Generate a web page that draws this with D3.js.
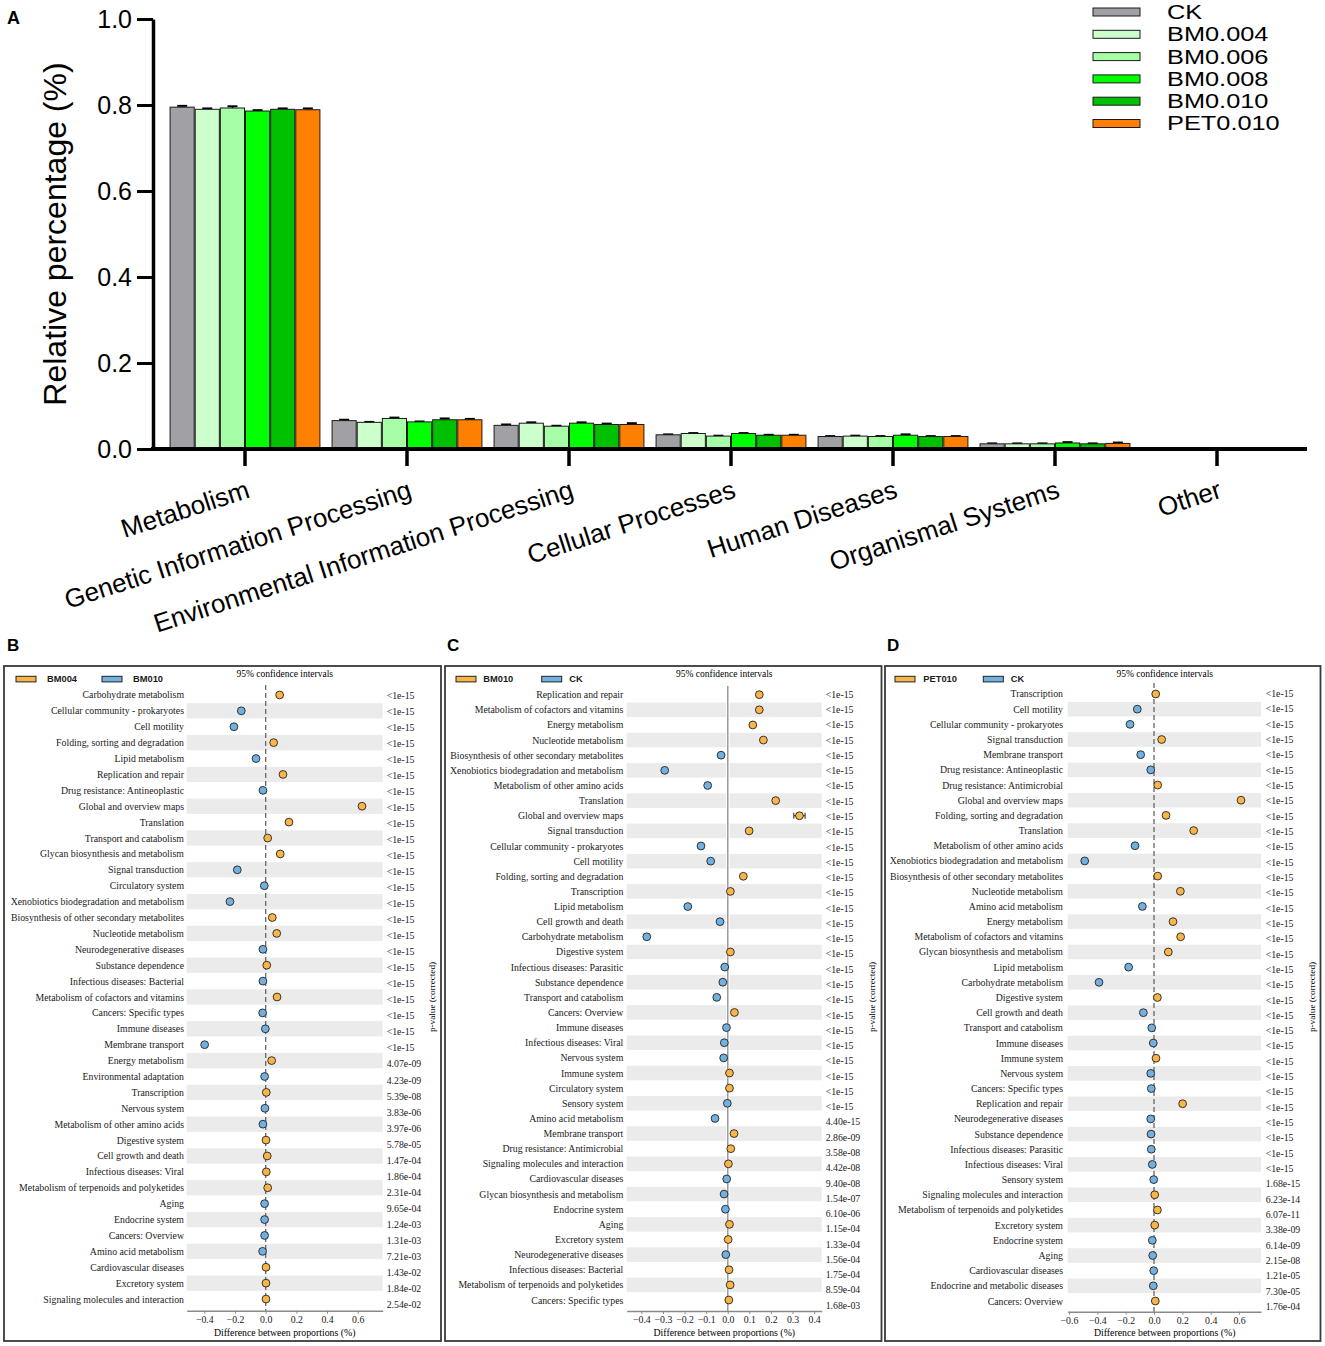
<!DOCTYPE html>
<html lang="en">
<head>
<meta charset="utf-8">
<title>KEGG level 1 / STAMP</title>
<script src="https://cdn.jsdelivr.net/npm/d3@7"></script>
<style>
  body { margin: 0; background: #fff; }
  svg { display: block; }
</style>
</head>
<body>
<svg id="fig" width="1325" height="1346"></svg>
<script>
// ---------- panel A data ----------
const groupsA = ["Metabolism", "Genetic Information Processing", "Environmental Information Processing",
                 "Cellular Processes", "Human Diseases", "Organismal Systems", "Other"];
const seriesA = ["CK", "BM0.004", "BM0.006", "BM0.008", "BM0.010", "PET0.010"];
const valCK    = [0.795, 0.066, 0.055, 0.033, 0.029, 0.012, 0];
const valBM004 = [0.790, 0.062, 0.060, 0.036, 0.030, 0.012, 0];
const valBM006 = [0.793, 0.071, 0.053, 0.030, 0.029, 0.012, 0];
const valBM008 = [0.786, 0.063, 0.060, 0.036, 0.032, 0.014, 0];
const valBM010 = [0.790, 0.068, 0.057, 0.032, 0.029, 0.012, 0];
const valPET   = [0.789, 0.068, 0.057, 0.032, 0.029, 0.013, 0];
const errCK    = [0.003, 0.002, 0.002, 0.001, 0.001, 0.001, 0];
const errBM004 = [0.002, 0.001, 0.002, 0.001, 0.001, 0.001, 0];
const errBM006 = [0.004, 0.002, 0.001, 0.001, 0.001, 0.001, 0];
const errBM008 = [0.002, 0.001, 0.002, 0.001, 0.002, 0.002, 0];
const errBM010 = [0.002, 0.003, 0.002, 0.001, 0.001, 0.001, 0];
const errPET   = [0.003, 0.002, 0.003, 0.001, 0.001, 0.002, 0];
const yTicksA  = [0, 0.2, 0.4, 0.6, 0.8, 1.0];

// ---------- panel B data (BM004 vs BM010) ----------
const catsB = ["Carbohydrate metabolism", "Cellular community - prokaryotes", "Cell motility",
  "Folding, sorting and degradation", "Lipid metabolism", "Replication and repair",
  "Drug resistance: Antineoplastic", "Global and overview maps", "Translation", "Transport and catabolism",
  "Glycan biosynthesis and metabolism", "Signal transduction", "Circulatory system",
  "Xenobiotics biodegradation and metabolism", "Biosynthesis of other secondary metabolites",
  "Nucleotide metabolism", "Neurodegenerative diseases", "Substance dependence",
  "Infectious diseases: Bacterial", "Metabolism of cofactors and vitamins", "Cancers: Specific types",
  "Immune diseases", "Membrane transport", "Energy metabolism", "Environmental adaptation", "Transcription",
  "Nervous system", "Metabolism of other amino acids", "Digestive system", "Cell growth and death",
  "Infectious diseases: Viral", "Metabolism of terpenoids and polyketides", "Aging", "Endocrine system",
  "Cancers: Overview", "Amino acid metabolism", "Cardiovascular diseases", "Excretory system",
  "Signaling molecules and interaction"];
const diffB = [0.091, -0.159, -0.207, 0.052, -0.063, 0.113, -0.018, 0.628, 0.152, 0.013,
  0.095, -0.185, -0.009, -0.233, 0.043, 0.072, -0.018, 0.007, -0.018, 0.074,
  -0.020, -0.002, -0.398, 0.039, -0.007, 0.004, -0.005, -0.018, 0.002, 0.010,
  0.004, 0.013, -0.007, -0.007, -0.007, -0.020, 0.002, 0.002, 0.002];
const ciB = [0.005, 0.005, 0.005, 0.005, 0.004, 0.005, 0.004, 0.014, 0.006, 0.004,
  0.004, 0.005, 0.003, 0.005, 0.003, 0.004, 0.003, 0.003, 0.003, 0.004,
  0.003, 0.003, 0.006, 0.004, 0.002, 0.003, 0.002, 0.003, 0.002, 0.003,
  0.002, 0.003, 0.002, 0.002, 0.002, 0.003, 0.002, 0.002, 0.002];
const pB = ["<1e-15", "<1e-15", "<1e-15", "<1e-15", "<1e-15", "<1e-15", "<1e-15", "<1e-15", "<1e-15", "<1e-15",
  "<1e-15", "<1e-15", "<1e-15", "<1e-15", "<1e-15", "<1e-15", "<1e-15", "<1e-15", "<1e-15", "<1e-15",
  "<1e-15", "<1e-15", "<1e-15", "4.07e-09", "4.23e-09", "5.39e-08", "3.83e-06", "3.97e-06", "5.78e-05",
  "1.47e-04", "1.86e-04", "2.31e-04", "9.65e-04", "1.24e-03", "1.31e-03", "7.21e-03", "1.43e-02",
  "1.84e-02", "2.54e-02"];
const ticksB = [-0.4, -0.2, 0.0, 0.2, 0.4, 0.6];

// ---------- panel C data (BM010 vs CK) ----------
const catsC = ["Replication and repair", "Metabolism of cofactors and vitamins", "Energy metabolism",
  "Nucleotide metabolism", "Biosynthesis of other secondary metabolites",
  "Xenobiotics biodegradation and metabolism", "Metabolism of other amino acids", "Translation",
  "Global and overview maps", "Signal transduction", "Cellular community - prokaryotes", "Cell motility",
  "Folding, sorting and degradation", "Transcription", "Lipid metabolism", "Cell growth and death",
  "Carbohydrate metabolism", "Digestive system", "Infectious diseases: Parasitic", "Substance dependence",
  "Transport and catabolism", "Cancers: Overview", "Immune diseases", "Infectious diseases: Viral",
  "Nervous system", "Immune system", "Circulatory system", "Sensory system", "Amino acid metabolism",
  "Membrane transport", "Drug resistance: Antimicrobial", "Signaling molecules and interaction",
  "Cardiovascular diseases", "Glycan biosynthesis and metabolism", "Endocrine system", "Aging",
  "Excretory system", "Neurodegenerative diseases", "Infectious diseases: Bacterial",
  "Metabolism of terpenoids and polyketides", "Cancers: Specific types"];
const diffC = [0.146, 0.146, 0.116, 0.165, -0.031, -0.292, -0.093, 0.222, 0.332, 0.099,
  -0.124, -0.079, 0.072, 0.012, -0.185, -0.036, -0.375, 0.012, -0.014, -0.023,
  -0.051, 0.031, -0.006, -0.016, -0.019, 0.008, 0.008, -0.002, -0.059, 0.029,
  0.014, 0.003, -0.005, -0.017, -0.011, 0.008, 0.002, -0.009, 0.006, 0.011,
  0.005];
const ciC = [0.006, 0.006, 0.005, 0.006, 0.004, 0.007, 0.005, 0.007, 0.026, 0.006,
  0.005, 0.005, 0.005, 0.003, 0.006, 0.004, 0.012, 0.003, 0.003, 0.003,
  0.004, 0.003, 0.003, 0.003, 0.003, 0.003, 0.003, 0.002, 0.005, 0.003,
  0.003, 0.003, 0.002, 0.003, 0.002, 0.002, 0.002, 0.002, 0.002, 0.002,
  0.002];
const pC = ["<1e-15", "<1e-15", "<1e-15", "<1e-15", "<1e-15", "<1e-15", "<1e-15", "<1e-15", "<1e-15", "<1e-15",
  "<1e-15", "<1e-15", "<1e-15", "<1e-15", "<1e-15", "<1e-15", "<1e-15", "<1e-15", "<1e-15", "<1e-15",
  "<1e-15", "<1e-15", "<1e-15", "<1e-15", "<1e-15", "<1e-15", "<1e-15", "<1e-15", "4.40e-15", "2.86e-09",
  "3.58e-08", "4.42e-08", "9.40e-08", "1.54e-07", "6.10e-06", "1.15e-04", "1.33e-04", "1.56e-04",
  "1.75e-04", "8.59e-04", "1.68e-03"];
const ticksC = [-0.4, -0.3, -0.2, -0.1, 0.0, 0.1, 0.2, 0.3, 0.4];

// ---------- panel D data (PET010 vs CK) ----------
const catsD = ["Transcription", "Cell motility", "Cellular community - prokaryotes", "Signal transduction",
  "Membrane transport", "Drug resistance: Antineoplastic", "Drug resistance: Antimicrobial",
  "Global and overview maps", "Folding, sorting and degradation", "Translation",
  "Metabolism of other amino acids", "Xenobiotics biodegradation and metabolism",
  "Biosynthesis of other secondary metabolites", "Nucleotide metabolism", "Amino acid metabolism",
  "Energy metabolism", "Metabolism of cofactors and vitamins", "Glycan biosynthesis and metabolism",
  "Lipid metabolism", "Carbohydrate metabolism", "Digestive system", "Cell growth and death",
  "Transport and catabolism", "Immune diseases", "Immune system", "Nervous system",
  "Cancers: Specific types", "Replication and repair", "Neurodegenerative diseases", "Substance dependence",
  "Infectious diseases: Parasitic", "Infectious diseases: Viral", "Sensory system",
  "Signaling molecules and interaction", "Metabolism of terpenoids and polyketides", "Excretory system",
  "Endocrine system", "Aging", "Cardiovascular diseases", "Endocrine and metabolic diseases",
  "Cancers: Overview"];
const diffD = [0.012, -0.118, -0.169, 0.054, -0.094, -0.023, 0.026, 0.614, 0.085, 0.280,
  -0.134, -0.489, 0.026, 0.186, -0.082, 0.134, 0.188, 0.101, -0.179, -0.388,
  0.024, -0.075, -0.016, -0.005, 0.014, -0.023, -0.019, 0.202, -0.023, -0.021,
  -0.019, -0.012, -0.002, 0.005, 0.024, 0.005, -0.012, -0.009, -0.002, -0.005,
  0.009];
const ciD = [0.004, 0.005, 0.005, 0.005, 0.005, 0.004, 0.004, 0.016, 0.005, 0.006,
  0.005, 0.006, 0.004, 0.005, 0.005, 0.005, 0.005, 0.005, 0.005, 0.006,
  0.003, 0.004, 0.003, 0.003, 0.003, 0.003, 0.003, 0.005, 0.003, 0.003,
  0.003, 0.003, 0.002, 0.002, 0.003, 0.002, 0.002, 0.002, 0.002, 0.002,
  0.002];
const pD = ["<1e-15", "<1e-15", "<1e-15", "<1e-15", "<1e-15", "<1e-15", "<1e-15", "<1e-15", "<1e-15", "<1e-15",
  "<1e-15", "<1e-15", "<1e-15", "<1e-15", "<1e-15", "<1e-15", "<1e-15", "<1e-15", "<1e-15", "<1e-15",
  "<1e-15", "<1e-15", "<1e-15", "<1e-15", "<1e-15", "<1e-15", "<1e-15", "<1e-15", "<1e-15", "<1e-15",
  "<1e-15", "<1e-15", "1.68e-15", "6.23e-14", "6.07e-11", "3.38e-09", "6.14e-09", "2.15e-08",
  "1.21e-05", "7.30e-05", "1.76e-04"];
const ticksD = [-0.6, -0.4, -0.2, 0.0, 0.2, 0.4, 0.6];

// ---------- styles ----------
const colorsA = ["#a1a1a5", "#ccffcc", "#a6ffa6", "#00ff00", "#00c000", "#ff8000"];
const ORANGE = "#f9b548", BLUE = "#72b0e0";
const SANS = "Liberation Sans, Arial, sans-serif";
const SERIF = "Liberation Serif, Times New Roman, serif";

const svg = d3.select("#fig");

// ================= panel A =================
const valsA = [valCK, valBM004, valBM006, valBM008, valBM010, valPET];
const errsA = [errCK, errBM004, errBM006, errBM008, errBM010, errPET];

const yA = d3.scaleLinear().domain([0, 1]).range([449, 19]);
const xA = d3.scaleBand().domain(groupsA).range([164, 1298])
             .paddingInner(0.075).paddingOuter(0.0375);
const xSub = d3.scaleBand().domain(seriesA).range([0, xA.bandwidth()]).paddingInner(0.04);

const barData = [];
groupsA.forEach((g, gi) => {
  seriesA.forEach((s, si) => {
    barData.push({g: g, s: s, si: si, v: valsA[si][gi], e: errsA[si][gi]});
  });
});
const shown = barData.filter(d => d.v > 0);

const gA = svg.append("g");
// error bars first (they sit on top of the bar edge)
gA.selectAll("line.err").data(shown).join("line")
  .attr("class", "err")
  .attr("x1", d => xA(d.g) + xSub(d.s) + xSub.bandwidth() / 2)
  .attr("x2", d => xA(d.g) + xSub(d.s) + xSub.bandwidth() / 2)
  .attr("y1", d => yA(d.v)).attr("y2", d => yA(d.v + d.e))
  .attr("stroke", "#000").attr("stroke-width", 1.5);
gA.selectAll("line.cap").data(shown).join("line")
  .attr("class", "cap")
  .attr("x1", d => xA(d.g) + xSub(d.s) + xSub.bandwidth() / 2 - 5)
  .attr("x2", d => xA(d.g) + xSub(d.s) + xSub.bandwidth() / 2 + 5)
  .attr("y1", d => yA(d.v + d.e)).attr("y2", d => yA(d.v + d.e))
  .attr("stroke", "#000").attr("stroke-width", 2);
gA.selectAll("rect.bar").data(shown).join("rect")
  .attr("class", "bar")
  .attr("x", d => xA(d.g) + xSub(d.s))
  .attr("width", xSub.bandwidth())
  .attr("y", d => yA(d.v))
  .attr("height", d => yA(0) - yA(d.v))
  .attr("fill", d => colorsA[d.si])
  .attr("stroke", "#1a1a1a").attr("stroke-width", 1);

// y axis
const yAxisA = gA.append("g").attr("transform", "translate(153,0)")
  .call(d3.axisLeft(yA).tickValues(yTicksA).tickFormat(d3.format(".1f"))
          .tickSize(16).tickSizeOuter(0).tickPadding(5));
yAxisA.select(".domain").attr("stroke", "#000").attr("stroke-width", 3.5);
yAxisA.selectAll(".tick line").attr("stroke", "#000").attr("stroke-width", 3);
yAxisA.selectAll(".tick text").attr("font-family", SANS).attr("font-size", 25).attr("fill", "#000");

// x axis
gA.append("line").attr("x1", 151).attr("x2", 1307).attr("y1", 449).attr("y2", 449)
  .attr("stroke", "#000").attr("stroke-width", 4);
const xAxisA = gA.append("g").attr("transform", "translate(0,449)")
  .call(d3.axisBottom(xA).tickSize(17).tickSizeOuter(0));
xAxisA.select(".domain").remove();
xAxisA.selectAll(".tick line").attr("stroke", "#000").attr("stroke-width", 3.5);
xAxisA.selectAll(".tick text").remove();
xAxisA.selectAll(".tick").append("text")
  .attr("text-anchor", "end")
  .attr("transform", "translate(6,48) rotate(-18)")
  .attr("font-family", SANS).attr("font-size", 26).attr("fill", "#000")
  .text(d => d);

// y label
gA.append("text")
  .attr("transform", "translate(55,234) rotate(-90)")
  .attr("text-anchor", "middle").attr("dominant-baseline", "central")
  .attr("font-family", SANS).attr("font-size", 32)
  .text("Relative percentage (%)");

// legend (labels are drawn a little wide, as in the original figure)
const legA = gA.selectAll("g.leg").data(seriesA).join("g")
  .attr("class", "leg")
  .attr("transform", (d, i) => "translate(1093," + (8 + i * 22.3) + ")");
legA.append("rect").attr("width", 47).attr("height", 8)
  .attr("fill", (d, i) => colorsA[i]).attr("stroke", "#1a1a1a").attr("stroke-width", 1);
legA.append("text")
  .attr("transform", "translate(74,4.5) scale(1.3,1)")
  .attr("dominant-baseline", "central")
  .attr("font-family", SANS).attr("font-size", 19.5).text(d => d);

svg.append("text").attr("x", 7).attr("y", 24)
  .attr("font-family", SANS).attr("font-weight", "bold").attr("font-size", 18).text("A");

// ================= panels B, C, D =================
function drawPanel(cfg, cats, diffs, cis, pvals, ticks) {
  const g = svg.append("g");
  const rows = cats.map((c, i) => ({c: c, i: i, v: diffs[i], ci: cis[i], p: pvals[i]}));

  g.append("rect")
    .attr("x", cfg.frame[0]).attr("y", cfg.frame[1])
    .attr("width", cfg.frame[2] - cfg.frame[0]).attr("height", cfg.frame[3] - cfg.frame[1])
    .attr("fill", "none").attr("stroke", "#3a3a3a").attr("stroke-width", 1.8);

  const x = d3.scaleLinear().domain(cfg.domain).range(cfg.plotX);
  const y = d3.scaleBand().domain(cats).range(cfg.rows);
  const yp = d3.scaleBand().domain(cats).range(cfg.pRows);
  const cy = d => y(d.c) + y.bandwidth() / 2;

  // alternating row shading
  g.selectAll("rect.band").data(rows.filter(d => d.i % 2 === 1)).join("rect")
    .attr("class", "band")
    .attr("x", cfg.plotX[0]).attr("width", cfg.plotX[1] - cfg.plotX[0])
    .attr("y", d => y(d.c) + 0.3).attr("height", y.bandwidth() - 0.6)
    .attr("fill", "#ebebeb");

  // zero line
  if (cfg.solid) {
    g.append("line").attr("x1", x(0)).attr("x2", x(0)).attr("y1", cfg.zeroTop).attr("y2", cfg.axisY)
      .attr("stroke", "#fff").attr("stroke-width", 3.5);
    g.append("line").attr("x1", x(0)).attr("x2", x(0)).attr("y1", cfg.zeroTop).attr("y2", cfg.axisY)
      .attr("stroke", "#9a9a9a").attr("stroke-width", 1.5);
  } else {
    g.append("line").attr("x1", x(0)).attr("x2", x(0)).attr("y1", cfg.zeroTop).attr("y2", cfg.axisY)
      .attr("stroke", "#666").attr("stroke-width", 1.3).attr("stroke-dasharray", "5,3");
  }

  // confidence intervals
  g.selectAll("line.ci").data(rows).join("line").attr("class", "ci")
    .attr("x1", d => x(d.v - d.ci)).attr("x2", d => x(d.v + d.ci))
    .attr("y1", cy).attr("y2", cy).attr("stroke", "#222").attr("stroke-width", 1);
  g.selectAll("line.cil").data(rows).join("line").attr("class", "cil")
    .attr("x1", d => x(d.v - d.ci)).attr("x2", d => x(d.v - d.ci))
    .attr("y1", d => cy(d) - 3).attr("y2", d => cy(d) + 3).attr("stroke", "#222").attr("stroke-width", 1);
  g.selectAll("line.ciu").data(rows).join("line").attr("class", "ciu")
    .attr("x1", d => x(d.v + d.ci)).attr("x2", d => x(d.v + d.ci))
    .attr("y1", d => cy(d) - 3).attr("y2", d => cy(d) + 3).attr("stroke", "#222").attr("stroke-width", 1);

  // points
  g.selectAll("circle.pt").data(rows).join("circle").attr("class", "pt")
    .attr("cx", d => x(d.v)).attr("cy", cy).attr("r", 3.9)
    .attr("fill", d => d.v > 0 ? ORANGE : BLUE)
    .attr("stroke", "#222").attr("stroke-width", 0.9);

  // category labels
  g.selectAll("text.cat").data(rows).join("text").attr("class", "cat")
    .attr("x", cfg.labelX).attr("y", cy)
    .attr("text-anchor", "end").attr("dominant-baseline", "central")
    .attr("font-family", SERIF).attr("font-size", 9.8).attr("fill", "#1a1a1a")
    .text(d => d.c);

  // p-values
  g.selectAll("text.pv").data(rows).join("text").attr("class", "pv")
    .attr("x", cfg.pX).attr("y", d => yp(d.c) + yp.bandwidth() / 2)
    .attr("dominant-baseline", "central")
    .attr("font-family", SERIF).attr("font-size", 9.8).attr("fill", "#1a1a1a")
    .text(d => d.p);

  // x axis
  const ax = g.append("g").attr("transform", "translate(0," + cfg.axisY + ")")
    .call(d3.axisBottom(x).tickValues(ticks).tickFormat(d3.format(".1f")).tickSize(3).tickSizeOuter(0));
  ax.select(".domain").attr("stroke", "#8a8a8a").attr("stroke-width", 1.4);
  ax.selectAll(".tick line").attr("stroke", "#8a8a8a");
  ax.selectAll(".tick text").attr("font-family", SERIF).attr("font-size", 9.8).attr("fill", "#1a1a1a")
    .attr("y", 5);

  g.append("text").attr("x", cfg.titleX).attr("y", 1332).attr("text-anchor", "middle")
    .attr("dominant-baseline", "central")
    .attr("font-family", SERIF).attr("font-size", 9.8).text("Difference between proportions (%)");
  g.append("text").attr("x", cfg.titleX).attr("y", 674).attr("text-anchor", "middle")
    .attr("dominant-baseline", "central")
    .attr("font-family", SERIF).attr("font-size", 9.5).text("95% confidence intervals");
  g.append("text").attr("transform", "translate(" + cfg.pvLabelX + ",997) rotate(-90)")
    .attr("text-anchor", "middle").attr("dominant-baseline", "central")
    .attr("font-family", SERIF).attr("font-size", 9.2).text("p-value (corrected)");

  // legend
  const leg = [{name: cfg.names[0], fill: ORANGE, rx: cfg.leg[0], tx: cfg.leg[1]},
               {name: cfg.names[1], fill: BLUE, rx: cfg.leg[2], tx: cfg.leg[3]}];
  g.selectAll("rect.lg").data(leg).join("rect").attr("class", "lg")
    .attr("x", d => d.rx).attr("y", 676.3).attr("width", 20).attr("height", 5.6)
    .attr("fill", d => d.fill).attr("stroke", "#222").attr("stroke-width", 1);
  g.selectAll("text.lg").data(leg).join("text").attr("class", "lg")
    .attr("x", d => d.tx).attr("y", 679.3).attr("dominant-baseline", "central")
    .attr("font-family", SANS).attr("font-size", 9.3).attr("font-weight", 600).attr("fill", "#1a1a1a")
    .text(d => d.name);

  svg.append("text").attr("x", cfg.letterX).attr("y", 651)
    .attr("font-family", SANS).attr("font-weight", "bold").attr("font-size", 17).text(cfg.letter);
}

drawPanel({letter: "B", letterX: 7, names: ["BM004", "BM010"],
  frame: [4, 666, 441, 1341], plotX: [186.7, 382.7], domain: [-0.515, 0.763],
  rows: [687, 1307], pRows: [687, 1312.6], axisY: 1310.7, zeroTop: 685, solid: false,
  labelX: 184, pX: 386.7, pvLabelX: 432, titleX: 284.7, leg: [16, 47, 102, 133]},
  catsB, diffB, ciB, pB, ticksB);

drawPanel({letter: "C", letterX: 447, names: ["BM010", "CK"],
  frame: [445, 666, 881.5, 1341], plotX: [626.7, 821.7], domain: [-0.468, 0.435],
  rows: [687.1, 1307.6], pRows: [686.7, 1312.9], axisY: 1311, zeroTop: 686, solid: true,
  labelX: 623.3, pX: 825.7, pvLabelX: 872, titleX: 724.3, leg: [456, 483.3, 541.7, 569.3]},
  catsC, diffC, ciC, pC, ticksC);

drawPanel({letter: "D", letterX: 887, names: ["PET010", "CK"],
  frame: [885, 666, 1320.5, 1341], plotX: [1067.7, 1261], domain: [-0.609, 0.755],
  rows: [686.4, 1308.6], pRows: [686, 1314], axisY: 1311.7, zeroTop: 683, solid: false,
  labelX: 1063, pX: 1265.7, pvLabelX: 1312, titleX: 1164.7, leg: [895, 923.3, 983.3, 1010.7]},
  catsD, diffD, ciD, pD, ticksD);
</script>
</body>
</html>
